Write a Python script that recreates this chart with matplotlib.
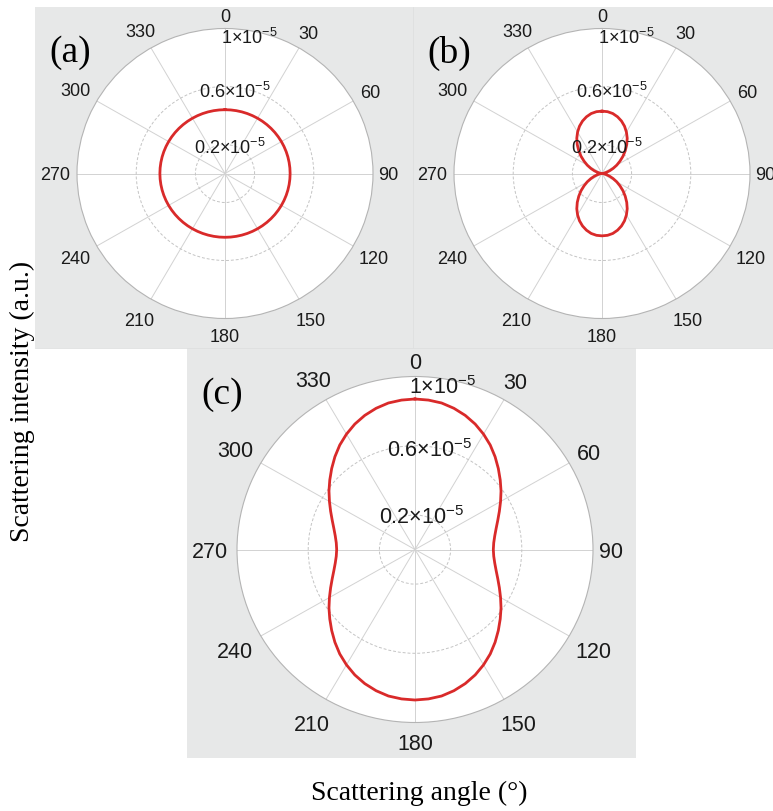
import numpy as np
import matplotlib
matplotlib.use("Agg")
import matplotlib.pyplot as plt
from matplotlib.patches import Rectangle

plt.rcParams['font.family'] = ['Liberation Sans', 'DejaVu Sans']
plt.rcParams['mathtext.default'] = 'regular'

# scattering angle (deg), 5 deg steps
angle_deg = list(range(0, 361, 5))

# intensities in units of 1e-5
# (a) s-polarised: circle
int_a = [0.44] * 73
# (b) p-polarised: two lobes along 0/180
int_b = [0.43, 0.428, 0.42, 0.405, 0.385, 0.36, 0.33, 0.297, 0.26, 0.222,
         0.185, 0.148, 0.115, 0.083, 0.055, 0.032, 0.015, 0.004, 0.0,
         0.004, 0.015, 0.032, 0.055, 0.083, 0.115, 0.148, 0.185, 0.222,
         0.26, 0.297, 0.33, 0.36, 0.385, 0.405, 0.42, 0.428, 0.43,
         0.428, 0.42, 0.405, 0.385, 0.36, 0.33, 0.297, 0.26, 0.222,
         0.185, 0.148, 0.115, 0.083, 0.055, 0.032, 0.015, 0.004, 0.0,
         0.004, 0.015, 0.032, 0.055, 0.083, 0.115, 0.148, 0.185, 0.222,
         0.26, 0.297, 0.33, 0.36, 0.385, 0.405, 0.42, 0.428, 0.43]
# (c) unpolarised: peanut shape
int_c = [0.87, 0.867, 0.86, 0.845, 0.825, 0.80, 0.77, 0.737, 0.70, 0.662,
         0.625, 0.59, 0.555, 0.523, 0.495, 0.472, 0.455, 0.444, 0.44,
         0.444, 0.455, 0.472, 0.495, 0.523, 0.555, 0.59, 0.625, 0.662,
         0.70, 0.737, 0.77, 0.80, 0.825, 0.845, 0.86, 0.867, 0.87,
         0.867, 0.86, 0.845, 0.825, 0.80, 0.77, 0.737, 0.70, 0.662,
         0.625, 0.59, 0.555, 0.523, 0.495, 0.472, 0.455, 0.444, 0.44,
         0.444, 0.455, 0.472, 0.495, 0.523, 0.555, 0.59, 0.625, 0.662,
         0.70, 0.737, 0.77, 0.80, 0.825, 0.845, 0.86, 0.867, 0.87]

theta_ticks = list(range(0, 360, 30))
theta_labels = [str(t) for t in theta_ticks]
ring_labels = ["0.2×10$^{-5}$", "0.6×10$^{-5}$", "1×10$^{-5}$"]

# radial position of the angle labels (fraction of outer ring)
lab_r = [1.09, 1.125, 1.13, 1.10, 1.16, 1.16, 1.115, 1.16, 1.165, 1.15, 1.165, 1.14]

W, H = 773, 811
gray = '#e7e8e8'
red = '#d92a2a'
txt_col = '#1a1a1a'


def fig_box(x0, y0, x1, y1):
    return [x0 / W, 1 - y1 / H, (x1 - x0) / W, (y1 - y0) / H]


fig = plt.figure(figsize=(W / 100, H / 100), dpi=100)

# gray panel backgrounds
for (x0, y0, x1, y1) in [(35, 7, 773, 348), (187, 348, 636, 758)]:
    b = fig_box(x0, y0, x1, y1)
    fig.add_artist(Rectangle((b[0], b[1]), b[2], b[3], transform=fig.transFigure,
                             facecolor=gray, edgecolor='none', zorder=-5))
fig.add_artist(plt.Line2D([413 / W, 413 / W], [1 - 7 / H, 1 - 348 / H],
                          transform=fig.transFigure, color='#dedfdf', lw=0.6, zorder=-4))
fig.add_artist(plt.Line2D([35 / W, 773 / W], [1 - 348 / H, 1 - 348 / H],
                          transform=fig.transFigure, color='#dedfdf', lw=0.6, zorder=-4))


def polar_panel(box, vals, fs, lab_pos):
    ax = fig.add_axes(fig_box(*box), projection='polar')
    ax.set_aspect('auto')
    ax.set_facecolor('white')
    ax.set_theta_zero_location('N')
    ax.set_theta_direction(-1)
    ax.plot(np.deg2rad(angle_deg), vals, color=red, lw=2.0, zorder=5)
    ax.set_rlim(0, 1)
    ax.set_thetagrids(theta_ticks, [''] * len(theta_ticks))
    ax.set_rticks([0.2, 0.6])
    ax.set_yticklabels([])
    ax.xaxis.grid(True, color='#d2d2d2', lw=0.7, ls='-')
    ax.yaxis.grid(True, color='#c4c4c4', lw=0.7, ls=(0, (3, 2)))
    ax.spines['polar'].set_color('#b4b4b4')
    ax.spines['polar'].set_linewidth(0.8)
    ax.tick_params(axis='x', length=0)
    for t, s, rr in zip(theta_ticks, theta_labels, lab_r):
        ax.text(np.deg2rad(t), rr, s, fontsize=fs, ha='center', va='center_baseline',
                color=txt_col, clip_on=False)
    for (th, r), txt in zip(lab_pos, ring_labels):
        ax.text(np.deg2rad(th), r, txt, fontsize=fs, ha='center', va='center',
                color=txt_col, zorder=6)
    return ax


lab_ab = [(11, 0.176), (7, 0.565), (9.8, 0.95)]
lab_c = [(11, 0.19), (8, 0.58), (9.5, 0.95)]
polar_panel((77, 28.5, 373, 318.5), int_a, 13, lab_ab)
polar_panel((454, 28.5, 750, 318.5), int_b, 13, lab_ab)
polar_panel((237, 376.5, 593, 722.5), int_c, 15.5, lab_c)

serif = ['Liberation Serif', 'DejaVu Serif']
fig.text(70 / W, 1 - 53 / H, "(a)", fontsize=27, family=serif, ha='center', va='center')
fig.text(449 / W, 1 - 53 / H, "(b)", fontsize=27, family=serif, ha='center', va='center')
fig.text(222 / W, 1 - 395 / H, "(c)", fontsize=27, family=serif, ha='center', va='center')
fig.text(22 / W, 1 - 401 / H, "Scattering intensity (a.u.)", fontsize=20, family=serif,
         rotation=90, ha='center', va='center')
fig.text(419 / W, 1 - 793 / H, "Scattering angle (°)", fontsize=20, family=serif,
         ha='center', va='center')

fig.savefig("out.png", dpi=100)
